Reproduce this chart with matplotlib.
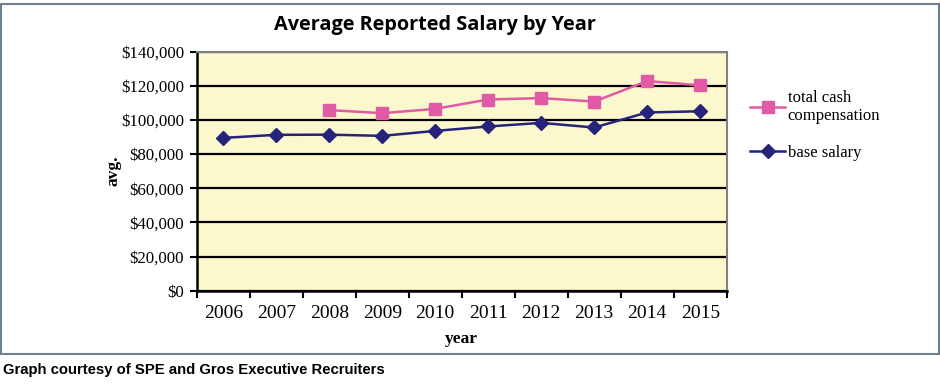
import matplotlib
matplotlib.use("Agg")
import matplotlib.pyplot as plt
from matplotlib.patches import Rectangle
from matplotlib.ticker import FuncFormatter, FixedLocator

years = ["2006", "2007", "2008", "2009", "2010", "2011", "2012", "2013", "2014", "2015"]
total_cash = [None, None, 105800, 104000, 106500, 112000, 112800, 110800, 122800, 120300]
base_salary = [89500, 91300, 91400, 90700, 93600, 96200, 98300, 95600, 104400, 105100]
yticks = [0, 20000, 40000, 60000, 80000, 100000, 120000, 140000]

W, H = 940, 391
fig = plt.figure(figsize=(W / 100, H / 100), dpi=100)
fig.patch.set_facecolor("white")

ax = fig.add_axes([196.7 / W, (H - 290.7) / H, 530 / W, 239 / H])
ax.set_facecolor("#FCF8CE")

xs = list(range(len(years)))
tx = [x for x, v in zip(xs, total_cash) if v is not None]
tv = [v for v in total_cash if v is not None]

l1, = ax.plot(tx, tv, color="#E15AA5", lw=1.8, marker="s", ms=9,
              mfc="#E15AA5", mec="#E15AA5", zorder=4)
l2, = ax.plot(xs, base_salary, color="#25237A", lw=1.8, marker="D", ms=7.5,
              mfc="#25237A", mec="#25237A", zorder=4)

ax.set_xlim(-0.5, len(years) - 0.5)
ax.set_ylim(0, 140000)
ax.yaxis.set_major_locator(FixedLocator(yticks))
ax.yaxis.set_major_formatter(FuncFormatter(lambda v, p: "${:,.0f}".format(v)))
ax.grid(axis="y", color="black", lw=1.6, zorder=1)
ax.set_axisbelow(True)

ax.xaxis.set_major_locator(FixedLocator([i - 0.5 for i in range(len(years) + 1)]))
ax.xaxis.set_major_formatter(FuncFormatter(lambda v, p: ""))
ax.xaxis.set_minor_locator(FixedLocator(xs))
ax.set_xticklabels(years, minor=True)
ax.tick_params(axis="x", which="minor", length=0, pad=10)
ax.tick_params(axis="x", which="major", length=5, width=1.5, color="black", direction="out")
ax.tick_params(axis="y", length=5, width=1.5, color="black", direction="out", pad=4)

serif = "Liberation Serif"
for lab in ax.get_xticklabels(minor=True):
    lab.set_fontfamily(serif)
    lab.set_fontsize(14)
for lab in ax.get_yticklabels():
    lab.set_fontfamily(serif)
    lab.set_fontsize(12.2)

for s in ["left", "bottom"]:
    ax.spines[s].set_color("black")
    ax.spines[s].set_linewidth(1.8)
for s in ["top", "right"]:
    ax.spines[s].set_color("#7F7F7F")
    ax.spines[s].set_linewidth(1.5)

ax.set_ylabel("avg.", fontfamily=serif, fontweight="bold", fontsize=12.5, labelpad=0)
ax.set_xlabel("year", fontfamily=serif, fontweight="bold", fontsize=12.5, labelpad=7)

fig.text(434.5 / W, 1 - 25 / H, "Average Reported Salary by Year", ha="center", va="center",
         fontfamily="Open Sans", fontweight="bold", fontsize=14.3)

fig.legend([l1, l2], ["total cash\ncompensation", "base salary"],
           loc="upper left", bbox_to_anchor=(750 / W, 1 - 90 / H), frameon=False,
           prop={"family": serif, "size": 12}, handlelength=2.1, handletextpad=0.15,
           labelspacing=1.25, borderaxespad=0, borderpad=0)

fig.patches.append(Rectangle((1 / W, (H - 354) / H), 938 / W, 350 / H, transform=fig.transFigure,
                             fill=False, edgecolor="#6E7F8E", lw=1.5))

fig.text(3 / W, 1 - 370 / H, "Graph courtesy of SPE and Gros Executive Recruiters",
         ha="left", va="center", fontfamily="Liberation Sans", fontweight="bold", fontsize=10.7)

fig.savefig("out.png", dpi=100)
